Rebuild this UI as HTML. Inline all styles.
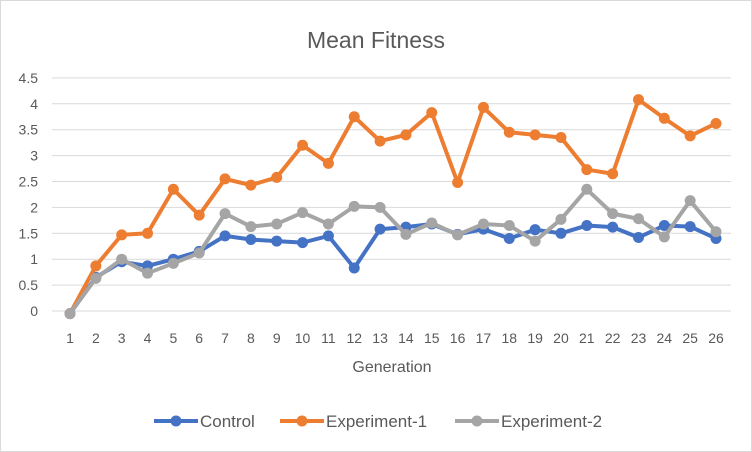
<!DOCTYPE html>
<html><head><meta charset="utf-8"><style>
body{margin:0;background:#fff;}
svg{display:block;font-family:"Liberation Sans",sans-serif;}
</style></head><body>
<svg id="chart" width="752" height="452">
<rect x="0.5" y="0.5" width="751" height="451" fill="#fff" stroke="#d9d9d9"/>
<text x="376" y="48" text-anchor="middle" font-size="23" fill="#595959">Mean Fitness</text>
<g id="grid"></g><g id="yt"></g><g id="xt"></g><g id="series"></g>
<text x="392" y="372" text-anchor="middle" font-size="16" fill="#595959">Generation</text>
<g id="legend"></g>
</svg>
<script>
const generations=[1,2,3,4,5,6,7,8,9,10,11,12,13,14,15,16,17,18,19,20,21,22,23,24,25,26];
const yTicks=[0,0.5,1,1.5,2,2.5,3,3.5,4,4.5];
const yTickLabels=["0","0.5","1","1.5","2","2.5","3","3.5","4","4.5"];
const control=[-0.05,0.65,0.95,0.87,1.0,1.15,1.45,1.38,1.35,1.32,1.45,0.83,1.58,1.62,1.68,1.48,1.58,1.4,1.57,1.5,1.65,1.62,1.42,1.65,1.63,1.4];
const experiment1=[-0.05,0.87,1.47,1.5,2.35,1.85,2.55,2.43,2.58,3.2,2.85,3.75,3.28,3.4,3.83,2.48,3.93,3.45,3.4,3.35,2.73,2.65,4.08,3.72,3.38,3.62];
const experiment2=[-0.05,0.63,1.0,0.73,0.92,1.12,1.88,1.63,1.68,1.9,1.68,2.02,2.0,1.48,1.7,1.47,1.68,1.65,1.35,1.77,2.35,1.88,1.78,1.43,2.13,1.53];
const seriesNames=["Control","Experiment-1","Experiment-2"];
const NS="http://www.w3.org/2000/svg";
const X=g=>70+(g-1)*25.84;
const Y=v=>311-v*51.8;
function mk(t,a,p){const e=document.createElementNS(NS,t);for(const k in a)e.setAttribute(k,a[k]);p.appendChild(e);return e;}
const grid=document.getElementById('grid'),yt=document.getElementById('yt'),xt=document.getElementById('xt');
yTicks.forEach((v,i)=>{
 const l=mk('line',{x1:52,x2:731,y1:Y(v),y2:Y(v),stroke:'#d9d9d9','stroke-width':1},grid);
 
 
 const t=mk('text',{x:38,y:Y(v)+5,'text-anchor':'end','font-size':14,fill:'#595959'},yt);
 t.textContent=yTickLabels[i];
 
 
});
generations.forEach(g=>{
 const t=mk('text',{x:X(g),y:343,'text-anchor':'middle','font-size':14,fill:'#595959'},xt);
 t.textContent=g;
 
 
});
const colors=["#4472c4","#ed7d31","#a5a5a5"];
const data=[control,experiment1,experiment2];
const sg=document.getElementById('series');
data.forEach((d,si)=>{
 const g=mk('g',{},sg);
 
 
 const pl=mk('polyline',{points:d.map((v,i)=>X(generations[i])+','+Y(v)).join(' '),fill:'none',stroke:colors[si],'stroke-width':4,'stroke-linejoin':'round'},g);
 
 
 d.forEach((v,i)=>{
  const c=mk('circle',{cx:X(generations[i]),cy:Y(v),r:5.5,fill:colors[si]},g);
  
  
 });
});
const lg=document.getElementById('legend');
const lx=[154,280,455];
seriesNames.forEach((n,i)=>{
 const g=mk('g',{},lg);
 
 
 mk('line',{x1:lx[i],x2:lx[i]+44,y1:421,y2:421,stroke:colors[i],'stroke-width':4},g);
 mk('circle',{cx:lx[i]+22,cy:421,r:5.5,fill:colors[i]},g);
 const t=mk('text',{x:lx[i]+46,y:427,'font-size':17,fill:'#595959'},g);
 t.textContent=n;
});
</script>
</body></html>
